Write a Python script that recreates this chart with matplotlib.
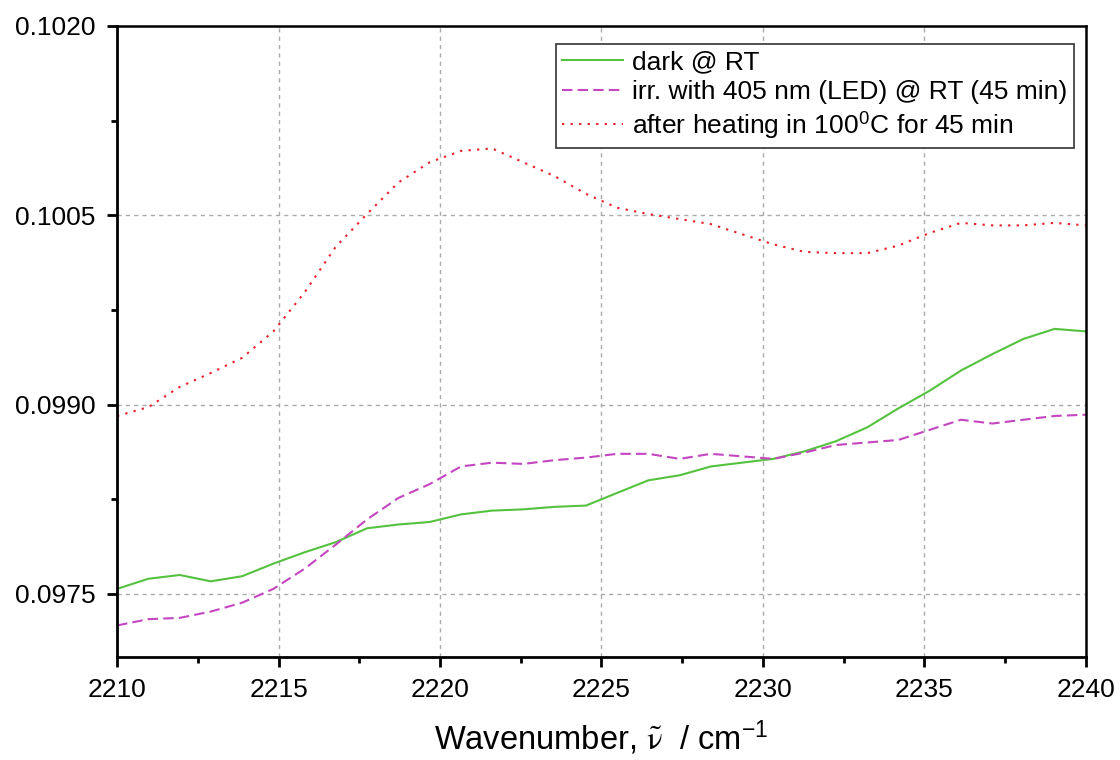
import matplotlib
matplotlib.use("Agg")
import matplotlib.pyplot as plt
from matplotlib.ticker import MultipleLocator, FormatStrFormatter

plt.rcParams["font.family"] = ["Liberation Sans", "DejaVu Sans"]
plt.rcParams["mathtext.fontset"] = "stix"

# IR spectrum, nitrile stretch region
wavenumber = [2210.00, 2210.97, 2211.94, 2212.90, 2213.87, 2214.84, 2215.81, 2216.77,
              2217.74, 2218.71, 2219.68, 2220.65, 2221.61, 2222.58, 2223.55, 2224.52,
              2225.48, 2226.45, 2227.42, 2228.39, 2229.35, 2230.32, 2231.29, 2232.26,
              2233.23, 2234.19, 2235.16, 2236.13, 2237.10, 2238.06, 2239.03, 2240.00]

dark_rt = [0.09754, 0.09762, 0.09765, 0.09760, 0.09764, 0.09774, 0.09783, 0.09791,
           0.09802, 0.09805, 0.09807, 0.09813, 0.09816, 0.09817, 0.09819, 0.09820,
           0.09830, 0.09840, 0.09844, 0.09851, 0.09854, 0.09857, 0.09863, 0.09871,
           0.09882, 0.09897, 0.09911, 0.09927, 0.09940, 0.09952, 0.09960, 0.09958]

irr_405 = [0.09725, 0.09730, 0.09731, 0.09736, 0.09743, 0.09754, 0.09770, 0.09789,
           0.09809, 0.09826, 0.09837, 0.09851, 0.09854, 0.09853, 0.09856, 0.09858,
           0.09861, 0.09861, 0.09857, 0.09861, 0.09859, 0.09857, 0.09862, 0.09868,
           0.09870, 0.09872, 0.09880, 0.09888, 0.09885, 0.09888, 0.09891, 0.09892]

heated_100 = [0.09891, 0.09898, 0.09914, 0.09925, 0.09937, 0.09958, 0.09989, 0.10025,
              0.10051, 0.10076, 0.10092, 0.10101, 0.10103, 0.10092, 0.10081, 0.10067,
              0.10056, 0.10051, 0.10047, 0.10043, 0.10035, 0.10027, 0.10021, 0.10020,
              0.10020, 0.10026, 0.10036, 0.10044, 0.10042, 0.10042, 0.10044, 0.10042]

labels = ["dark @ RT",
          "irr. with 405 nm (LED) @ RT (45 min)",
          r"after heating in 100$^{\mathregular{0}}$C for 45 min"]

fig = plt.figure(figsize=(11.2, 7.6), dpi=100)
ax = fig.add_axes([0.1045, 0.1355, 0.8651, 0.8303])

lw = 1.5
ax.plot(wavenumber, dark_rt, color="#55c23f", lw=lw, label=labels[0])
ax.plot(wavenumber, irr_405, color="#c446c0", lw=lw, dashes=(5, 2.5), label=labels[1])
ax.plot(wavenumber, heated_100, color="#e8222c", lw=lw, dashes=(1.1, 3.0), label=labels[2])

ax.set_xlim(2210, 2240)
ax.set_ylim(0.0970, 0.1020)
ax.xaxis.set_major_locator(MultipleLocator(5))
ax.xaxis.set_minor_locator(MultipleLocator(2.5))
ax.yaxis.set_major_locator(MultipleLocator(0.0015))
ax.yaxis.set_minor_locator(MultipleLocator(0.00075))
ax.yaxis.set_major_formatter(FormatStrFormatter("%.4f"))
ax.set_yticks([0.0975, 0.0990, 0.1005, 0.1020])

ax.grid(True, which="major", color="#aaaaaa", linestyle=(0, (3, 3)), lw=1.0)
ax.tick_params(which="major", direction="out", length=7, width=2, labelsize=19)
ax.tick_params(axis="y", which="major", pad=8.5)
ax.tick_params(axis="x", which="major", pad=8)
ax.tick_params(which="minor", direction="out", length=4.5, width=2)
for side in ["left", "bottom"]:
    ax.spines[side].set_linewidth(2)
for side in ["top", "right"]:
    ax.spines[side].set_linewidth(1.8)

ax.set_xlabel(r"Wavenumber, $\tilde{\mathrm{ν}}$  / cm$^{\mathregular{-1}}$",
              fontsize=23.5, labelpad=12)

leg = ax.legend(loc="upper right", bbox_to_anchor=(0.9876, 0.9715), fontsize=19,
                frameon=True, fancybox=False, handlelength=2.3, handletextpad=0.35,
                labelspacing=0.2, borderpad=0.25, borderaxespad=0.0)
leg.get_frame().set_edgecolor("#333333")
leg.get_frame().set_linewidth(1.2)
leg.get_frame().set_alpha(1)

fig.savefig("out.png", dpi=100)
